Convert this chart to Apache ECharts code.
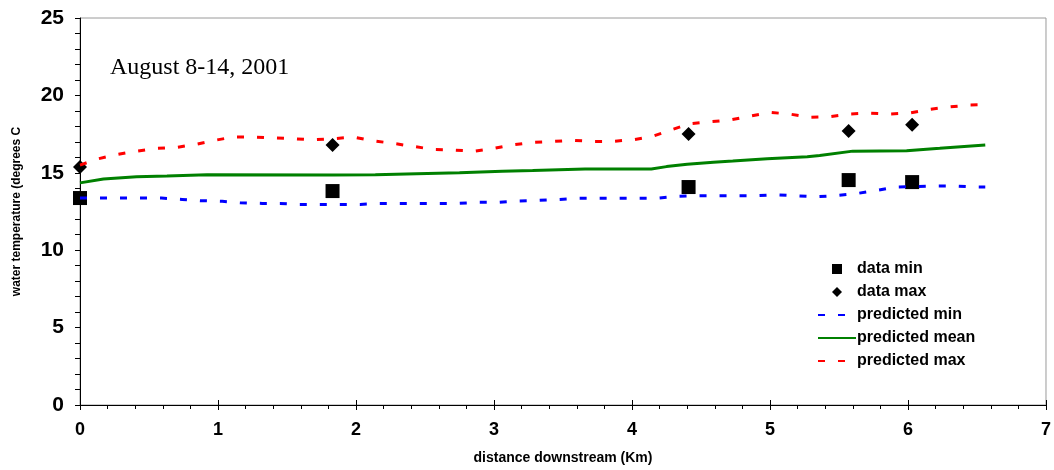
<!DOCTYPE html>
<html>
<head>
<meta charset="utf-8">
<script src="https://cdn.jsdelivr.net/npm/echarts@6/dist/echarts.min.js"></script>
<style>
  html, body { margin: 0; padding: 0; background: #fff; }
  #main { width: 1054px; height: 470px; }
</style>
</head>
<body>
<div id="main"></div>
<script type="text/javascript">
// observed data (distance km, temp C)
var dataMin = [[0, 13.37], [1.83, 13.82], [4.41, 14.08], [5.57, 14.53], [6.03, 14.4]];
var dataMax = [[0, 15.37], [1.83, 16.8], [4.41, 17.5], [5.57, 17.7], [6.03, 18.1]];

// model output
var predMin = [[0, 13.37], [0.16, 13.37], [0.59, 13.37], [0.74, 13.28], [0.87, 13.2], [1.03, 13.16],
    [1.16, 13.07], [1.32, 13.02], [1.45, 13.02], [1.59, 12.96], [2.03, 12.96], [2.17, 13.02],
    [2.74, 13.02], [2.88, 13.09], [3.03, 13.09], [3.18, 13.18], [3.32, 13.22], [3.47, 13.28],
    [3.61, 13.35], [4.17, 13.35], [4.33, 13.48], [4.46, 13.52], [4.89, 13.52], [5.04, 13.58],
    [5.18, 13.52], [5.33, 13.45], [5.47, 13.52], [5.62, 13.65], [5.76, 13.84], [5.91, 14.08],
    [6.2, 14.15], [6.33, 14.15], [6.48, 14.08], [6.56, 14.08]];
var predMean = [[0, 14.35], [0.17, 14.6], [0.41, 14.75], [0.63, 14.8], [0.92, 14.88], [1.83, 14.86],
    [2.14, 14.88], [2.44, 14.94], [2.75, 15.0], [3.06, 15.1], [3.28, 15.15], [3.66, 15.25],
    [4.14, 15.25], [4.25, 15.4], [4.4, 15.55], [4.59, 15.68], [4.73, 15.76], [4.98, 15.91],
    [5.27, 16.04], [5.36, 16.12], [5.6, 16.4], [5.99, 16.43], [6.23, 16.58], [6.56, 16.8]];
var predMax = [[0, 15.5], [0.13, 15.9], [0.26, 16.17], [0.41, 16.4], [0.55, 16.58], [0.7, 16.64],
    [0.84, 16.84], [0.99, 17.12], [1.11, 17.31], [1.27, 17.31], [1.4, 17.25], [1.55, 17.2],
    [1.69, 17.14], [1.83, 17.2], [1.98, 17.31], [2.12, 17.07], [2.27, 16.9], [2.41, 16.71],
    [2.57, 16.5], [2.7, 16.47], [2.86, 16.4], [2.99, 16.56], [3.14, 16.81], [3.28, 16.97],
    [3.43, 17.03], [3.57, 17.1], [3.72, 17.03], [3.86, 17.03], [4.01, 17.14], [4.14, 17.33],
    [4.29, 17.79], [4.42, 18.17], [4.57, 18.3], [4.71, 18.41], [4.86, 18.67], [5.0, 18.9],
    [5.14, 18.8], [5.29, 18.58], [5.43, 18.62], [5.58, 18.8], [5.72, 18.86], [5.87, 18.8],
    [6.01, 18.86], [6.16, 19.1], [6.29, 19.25], [6.45, 19.38], [6.56, 19.4]];

var hideDot = { opacity: 0 };

var myChart = echarts.init(document.getElementById('main'));
myChart.setOption({
    animation: false,
    textStyle: { fontFamily: 'Liberation Sans', color: '#000' },
    grid: {
        left: 80, right: 8, top: 18, bottom: 65,
        show: true, borderColor: '#9a9a9a', borderWidth: 1
    },
    graphic: [{
        type: 'text', left: 110, top: 56,
        style: { text: 'August 8-14, 2001', font: '24px "Liberation Serif"', fill: '#000' }
    }],
    legend: {
        orient: 'vertical', left: 812, top: 256,
        itemWidth: 38, itemHeight: 10, itemGap: 7,
        symbolKeepAspect: true,
        textStyle: { fontSize: 16, fontWeight: 'bold', color: '#000', padding: [0, 0, 0, -4] },
        data: [
            { name: 'data min', icon: 'path://M0,0H10V10H0Z' },
            { name: 'data max', icon: 'path://M5,0L10,5L5,10L0,5Z' },
            { name: 'predicted min', itemStyle: hideDot },
            { name: 'predicted mean', itemStyle: hideDot },
            { name: 'predicted max', itemStyle: hideDot }
        ]
    },
    xAxis: [{
        type: 'value', min: 0, max: 7, interval: 1,
        name: 'distance downstream (Km)', nameLocation: 'middle', nameGap: 46,
        nameTextStyle: { fontSize: 14, fontWeight: 'bold', color: '#000' },
        axisLine: { onZero: false, lineStyle: { color: '#000', width: 1 } },
        axisTick: { length: 5, lineStyle: { color: '#000' } },
        minorTick: { show: true, splitNumber: 5, length: 4, lineStyle: { color: '#000' } },
        axisLabel: { fontSize: 18, fontWeight: 'bold', color: '#000', margin: 16 },
        splitLine: { show: false }
    }, {
        type: 'value', min: 0, max: 7, interval: 1, position: 'bottom',
        axisLine: { show: false },
        axisTick: { inside: true, length: 5, lineStyle: { color: '#000' } },
        axisLabel: { show: false },
        splitLine: { show: false }
    }],
    yAxis: {
        type: 'value', min: 0, max: 25, interval: 5,
        name: 'water temperature (degrees C', nameLocation: 'middle', nameGap: 57,
        nameTextStyle: { fontSize: 12, fontWeight: 'bold', color: '#000' },
        axisLine: { show: true, lineStyle: { color: '#000', width: 1 } },
        axisTick: { length: 5, lineStyle: { color: '#000' } },
        minorTick: { show: true, splitNumber: 5, length: 5, lineStyle: { color: '#000' } },
        axisLabel: { fontSize: 21, fontWeight: 'bold', color: '#000', margin: 16 },
        splitLine: { show: false }
    },
    series: [{
        name: 'predicted min', type: 'line', data: predMin, symbol: 'none',
        lineStyle: { color: '#0000ff', width: 3, type: [7, 13] }, itemStyle: { color: '#0000ff' }
    }, {
        name: 'predicted mean', type: 'line', data: predMean, symbol: 'none',
        lineStyle: { color: '#008000', width: 3 }, itemStyle: { color: '#008000' }
    }, {
        name: 'predicted max', type: 'line', data: predMax, symbol: 'none',
        lineStyle: { color: '#ff0000', width: 3, type: [7, 13] }, itemStyle: { color: '#ff0000' }
    }, {
        name: 'data min', type: 'scatter', data: dataMin, symbol: 'rect', symbolSize: 14,
        clip: false, itemStyle: { color: '#000', opacity: 1 }
    }, {
        name: 'data max', type: 'scatter', data: dataMax, symbol: 'diamond', symbolSize: [14, 14],
        clip: false, itemStyle: { color: '#000', opacity: 1 }
    }]
});
</script>
</body>
</html>
